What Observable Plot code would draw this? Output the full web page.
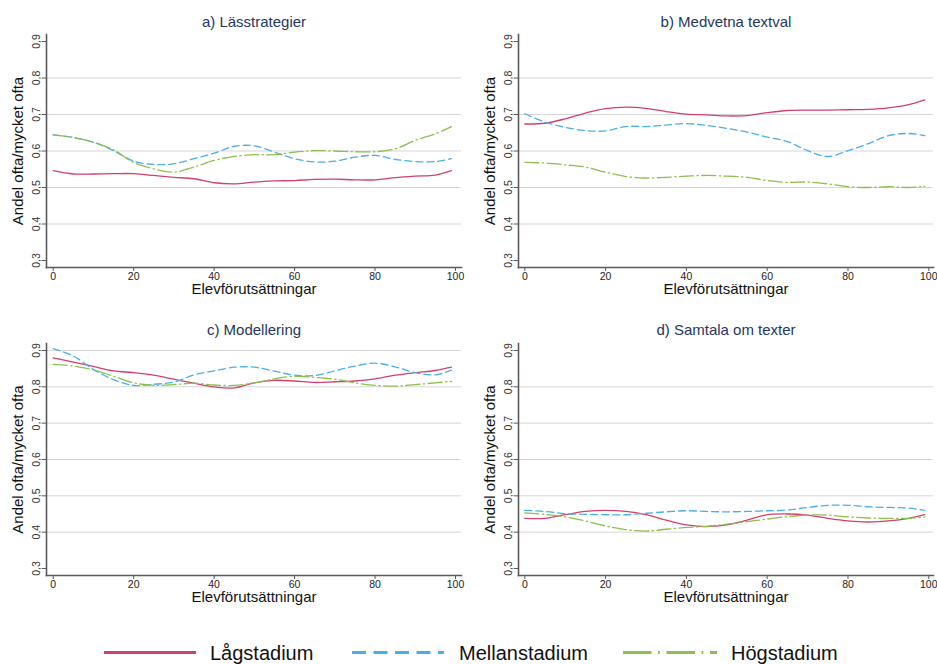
<!DOCTYPE html>
<html>
<head>
<meta charset="utf-8">
<script src="https://cdn.jsdelivr.net/npm/d3@7"></script>
<script src="https://cdn.jsdelivr.net/npm/@observablehq/plot@0.6"></script>
<style>
  body { margin: 0; background: #fff; font-family: "Liberation Sans", Arial, sans-serif; }
  #root { position: relative; width: 937px; height: 664px; overflow: hidden; background: #fff; }
  .panel { position: absolute; }
  .panel svg { overflow: visible; }
  .leg-text { position: absolute; top: 641px; font-size: 20px; color: #111; line-height: 24px; white-space: nowrap; }
</style>
</head>
<body>
<div id="root"></div>
<script>
// ---------- DATA ----------
const xs = [0, 5, 10, 15, 20, 25, 30, 35, 40, 45, 50, 55, 60, 65, 70, 75, 80, 85, 90, 95, 99];

const seriesNames = ["Lågstadium", "Mellanstadium", "Högstadium"];
const seriesColors = ["#d1406e", "#4aafe8", "#8cbf4d"];

const panelTitles = ["a) Lässtrategier", "b) Medvetna textval", "c) Modellering", "d) Samtala om texter"];
const yTickValues = [0.3, 0.4, 0.5, 0.6, 0.7, 0.8, 0.9];
const xTickValues = [0, 20, 40, 60, 80, 100];
const xLabel = "Elevförutsättningar";
const yLabel = "Andel ofta/mycket ofta";

// a) Lässtrategier
const aLag     = [0.546,0.537,0.537,0.538,0.538,0.533,0.528,0.524,0.513,0.510,0.515,0.518,0.519,0.522,0.523,0.521,0.521,0.527,0.531,0.534,0.546];
const aMellan  = [0.644,0.637,0.624,0.601,0.572,0.563,0.565,0.579,0.594,0.613,0.614,0.597,0.579,0.570,0.572,0.583,0.588,0.577,0.571,0.571,0.579];
const aHog     = [0.644,0.637,0.624,0.603,0.569,0.551,0.542,0.556,0.574,0.585,0.590,0.590,0.597,0.601,0.600,0.598,0.598,0.606,0.629,0.647,0.667];
// b) Medvetna textval
const bLag     = [0.674,0.676,0.688,0.704,0.716,0.720,0.717,0.708,0.701,0.699,0.696,0.697,0.705,0.711,0.712,0.712,0.713,0.714,0.718,0.727,0.740];
const bMellan  = [0.702,0.679,0.665,0.656,0.655,0.667,0.667,0.671,0.675,0.670,0.662,0.652,0.638,0.626,0.601,0.585,0.601,0.620,0.642,0.648,0.642];
const bHog     = [0.569,0.567,0.562,0.556,0.542,0.530,0.526,0.528,0.531,0.533,0.531,0.528,0.519,0.514,0.515,0.510,0.502,0.500,0.502,0.500,0.503];
// c) Modellering
const cLag     = [0.880,0.868,0.856,0.844,0.839,0.832,0.821,0.810,0.800,0.797,0.811,0.818,0.816,0.812,0.814,0.816,0.822,0.832,0.839,0.845,0.854];
const cMellan  = [0.905,0.885,0.848,0.820,0.804,0.807,0.813,0.833,0.844,0.854,0.854,0.843,0.832,0.831,0.844,0.857,0.865,0.855,0.839,0.833,0.846];
const cHog     = [0.862,0.857,0.847,0.829,0.811,0.804,0.806,0.810,0.805,0.804,0.811,0.822,0.829,0.826,0.821,0.811,0.804,0.802,0.806,0.811,0.815];
// d) Samtala om texter
const dLag     = [0.438,0.438,0.448,0.457,0.460,0.457,0.448,0.433,0.420,0.415,0.420,0.433,0.448,0.450,0.447,0.438,0.431,0.428,0.431,0.438,0.448];
const dMellan  = [0.460,0.457,0.451,0.449,0.448,0.448,0.452,0.456,0.459,0.457,0.456,0.457,0.459,0.461,0.468,0.474,0.474,0.470,0.468,0.466,0.460];
const dHog     = [0.453,0.449,0.442,0.431,0.417,0.407,0.403,0.408,0.413,0.416,0.422,0.429,0.436,0.443,0.447,0.447,0.442,0.439,0.438,0.438,0.442];

const panelSeries = [
  [aLag, aMellan, aHog],
  [bLag, bMellan, bHog],
  [cLag, cMellan, cHog],
  [dLag, dMellan, dHog]
];
const panelGrids = [
  [0.4, 0.5, 0.6, 0.7, 0.8],
  [0.4, 0.5, 0.6, 0.7, 0.8],
  [0.4, 0.5, 0.6, 0.7, 0.8, 0.9],
  [0.4, 0.5, 0.6, 0.7, 0.8]
];

// ---------- STYLE / LAYOUT ----------
const dashes = [null, "7,4", "14,3.5,1.3,3.5"];
const legendDashes = [null, "14,7.5", "28.5,6.5,1.8,6.7"];
const titleColor = "#26375f";
const axisColor = "#5a5a5a";
const fontFamily = "'Liberation Sans', Arial, sans-serif";

const cols = [
  {left: 0,   width: 468, marginLeft: 46, marginRight: 7, insetLeft: 6.7, insetRight: 6},
  {left: 470, width: 467, marginLeft: 48, marginRight: 4, insetLeft: 6.3, insetRight: 4.7}
];
const rows = [
  {top: 0,   height: 300, marginTop: 34, marginBottom: 33, insetTop: 7, insetBottom: 7, titleDy: -12, xLabelDy: 22},
  {top: 308, height: 300, marginTop: 35, marginBottom: 33, insetTop: 7, insetBottom: 7, titleDy: -13, xLabelDy: 22}
];

const fmt = d => d.toFixed(1).replace(".", ",");
const root = document.getElementById("root");

panelTitles.forEach((title, i) => {
  const c = cols[i % 2], r = rows[Math.floor(i / 2)];
  const data = [];
  panelSeries[i].forEach((vals, s) => {
    vals.forEach((v, k) => data.push({x: xs[k], y: v, series: seriesNames[s]}));
  });
  const lines = seriesNames.map((name, s) =>
    Plot.line(data.filter(d => d.series === name), {
      x: "x", y: "y", stroke: seriesColors[s], strokeWidth: 1.3,
      strokeDasharray: dashes[s] || undefined, curve: "catmull-rom"
    })
  );
  const chart = Plot.plot({
    width: c.width, height: r.height,
    marginLeft: c.marginLeft, marginRight: c.marginRight,
    marginTop: r.marginTop, marginBottom: r.marginBottom,
    insetLeft: c.insetLeft, insetRight: c.insetRight,
    insetTop: r.insetTop, insetBottom: r.insetBottom,
    style: {fontFamily: fontFamily, background: "transparent", overflow: "visible"},
    x: {domain: [0, 100]},
    y: {domain: [0.3, 0.9]},
    marks: [
      Plot.gridY(panelGrids[i], {stroke: "#d6d6d6", strokeOpacity: 1, strokeWidth: 1}),
      ...lines,
      Plot.frame({anchor: "left", stroke: axisColor, strokeWidth: 1.6}),
      Plot.frame({anchor: "bottom", stroke: axisColor, strokeWidth: 1.6}),
      Plot.axisY(yTickValues, {
        tickFormat: fmt, tickSize: 4, tickRotate: -90, tickPadding: 3,
        stroke: axisColor, strokeWidth: 1, fontSize: 10.5, fill: "#333", label: null
      }),
      Plot.axisX(xTickValues, {
        tickSize: 4, tickPadding: 1, stroke: axisColor, strokeWidth: 1,
        fontSize: 10.5, fill: "#222", label: null
      }),
      Plot.text([title], {frameAnchor: "top", dy: r.titleDy, fontSize: 15, fill: titleColor,
        textAnchor: "middle", lineAnchor: "middle"}),
      Plot.text([xLabel], {frameAnchor: "bottom", dy: r.xLabelDy, fontSize: 15, fill: "#111",
        textAnchor: "middle", lineAnchor: "middle"}),
      Plot.text([yLabel], {frameAnchor: "left", dx: -28.5, rotate: -90, fontSize: 15, fill: "#111",
        textAnchor: "middle", lineAnchor: "middle"})
    ]
  });
  const wrap = document.createElement("div");
  wrap.className = "panel";
  wrap.style.left = c.left + "px";
  wrap.style.top = r.top + "px";
  wrap.appendChild(chart);
  root.appendChild(wrap);
});

// ---------- LEGEND ----------
const legendLayout = [
  {lineLeft: 104, lineWidth: 92, textLeft: 210},
  {lineLeft: 352, lineWidth: 92, textLeft: 459},
  {lineLeft: 623, lineWidth: 94, textLeft: 731}
];
seriesNames.forEach((name, s) => {
  const L = legendLayout[s];
  const sw = d3.create("svg")
    .attr("width", L.lineWidth).attr("height", 24)
    .style("position", "absolute").style("left", L.lineLeft + "px").style("top", "640px");
  sw.append("line")
    .attr("x1", 0).attr("x2", L.lineWidth).attr("y1", 12.5).attr("y2", 12.5)
    .attr("stroke", seriesColors[s]).attr("stroke-width", 3)
    .attr("stroke-dasharray", legendDashes[s]);
  root.appendChild(sw.node());
  const t = document.createElement("div");
  t.className = "leg-text";
  t.style.left = L.textLeft + "px";
  t.textContent = name;
  root.appendChild(t);
});
</script>
</body>
</html>
